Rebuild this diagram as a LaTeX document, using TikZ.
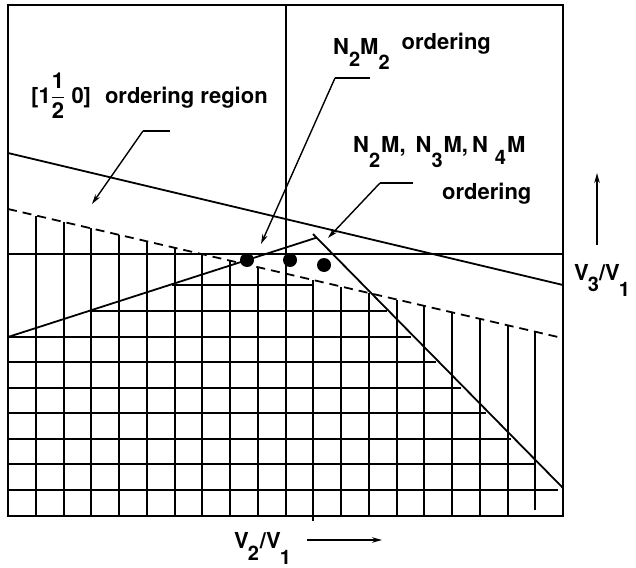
\documentclass[tikz,border=0pt]{standalone}
\usepackage{fontspec}
\usepackage{amsmath}
\setmainfont{texgyreheros}[Extension=.otf, UprightFont=*-bold, BoldFont=*-bold]
\usetikzlibrary{arrows.meta}
\newcommand{\lsub}[2]{\raisebox{-#2}{\fontsize{20}{20}\selectfont #1}}
\begin{document}
\begin{tikzpicture}[x=1pt,y=-1pt,
  lbl/.style={font=\fontsize{22}{24}\selectfont, inner sep=0pt},
  gridline/.style={line width=2pt},
  mainline/.style={line width=1.8pt},
  leader/.style={line width=1.4pt},
  arr/.style={line width=1.4pt,-{Stealth[length=10pt,width=5.5pt]}},
  dot/.style={circle,fill=black,minimum size=14pt,inner sep=0pt}]
\useasboundingbox (0,0) rectangle (636,567);
\fill[white] (0,0) rectangle (636,567);

% hatch: vertical lines up to the dashed line
\foreach \i in {1,...,19}{
  \pgfmathsetmacro{\xx}{round(8+27.75*\i)}
  \pgfmathsetmacro{\yt}{\i==10 ? 5 : 209+(\xx-8)*0.232727}
  \pgfmathsetmacro{\yb}{\i==19 ? 510 : (\i==11 ? 521 : 516)}
  \draw[gridline] (\xx,\yb) -- (\xx,\yt);
}
% hatch: horizontal lines
\draw[gridline] (172,285) -- (313,285);
\foreach \y/\xl/\xr in {311/90/387, 337/8/411, 362/8/436, 388/8/461, 413/8/486, 439/8/511, 464/8/536, 490/8/558}
  \draw[gridline] (\xl,\y) -- (\xr,\y);

% frame
\draw[line width=2pt] (8,5) rectangle (563,516);

% boundary lines
\draw[mainline] (8,153) -- (563,285);
\draw[line width=2pt] (8,254) -- (563,254);
\draw[mainline, dash pattern=on 9pt off 6pt] (8,209) -- (558,337);
\draw[mainline] (8,337) -- (317,237.5);
\draw[mainline] (313,234) -- (563,488);

% dots
\node[dot] (d1) at (247,260) {};
\node[dot] (d2) at (290,260) {};
\node[dot] (d3) at (324,265) {};

% labels
\node[lbl, anchor=base west] (lab1) at (31,103)
  {[1$\genfrac{}{}{1.3pt}{0}{\text{1}}{\text{2}}$ 0]\hspace{14pt}ordering region};
\node[lbl, anchor=base west] (lab2) at (333,55)
  {N\lsub{2}{12pt}M\lsub{2}{15pt}\hspace{12pt}\raisebox{5pt}{ordering}};
\node[lbl, anchor=base west] (lab3) at (353,152)
  {N\lsub{2}{15pt}\hspace{1pt}M,\hspace{10pt}N\lsub{3}{15pt}\hspace{1pt}M,\hspace{4pt}N\hspace{7pt}\lsub{4}{12pt}\hspace{1pt}M};
\node[lbl, anchor=base west] (lab3b) at (442,199) {ordering};
\node[lbl, anchor=base west] (xlab) at (234,548)
  {V\hspace{-1pt}\lsub{2}{12pt}\hspace{1pt}/V\hspace{-1pt}\lsub{1}{16pt}};
\node[lbl, anchor=base west] (ylab) at (574,280)
  {V\hspace{-1pt}\lsub{3}{11pt}\hspace{0pt}/V\hspace{-1pt}\lsub{1}{16pt}};

% leaders
\coordinate (l1a) at (170,131);
\coordinate (l1b) at (143,131);
\coordinate (l1t) at (92,204);
\draw[leader] (l1a) -- (l1b);
\draw[arr] (l1b) -- (l1t);

\coordinate (l2a) at (370,78);
\coordinate (l2b) at (335,78);
\coordinate (l2t) at (261,244);
\draw[leader] (l2a) -- (l2b);
\draw[arr] (l2b) -- (l2t);

\coordinate (l3a) at (413,183);
\coordinate (l3b) at (380,183);
\coordinate (l3t) at (328,238);
\draw[leader] (l3a) -- (l3b);
\draw[arr] (l3b) -- (l3t);

% axis arrows
\coordinate (ax1) at (307,540);
\coordinate (ax2) at (382,540);
\draw[arr] (ax1) -- (ax2);
\coordinate (ay1) at (597,245);
\coordinate (ay2) at (597,173);
\draw[arr] (ay1) -- (ay2);
\end{tikzpicture}
\end{document}
